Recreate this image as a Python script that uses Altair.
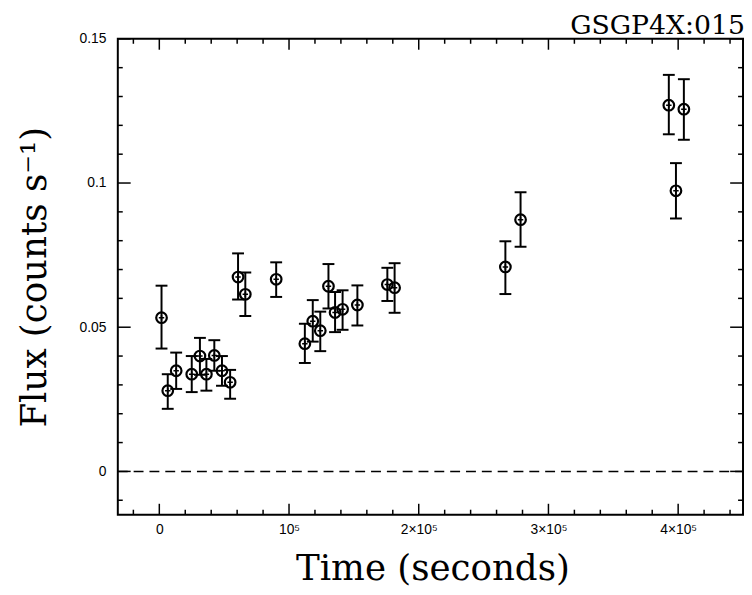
import altair as alt
import pandas as pd

# ---- data ----
time_s = [1700, 6500, 13000, 25000, 31300, 36300, 42400, 48300, 54600, 60700,
          66300, 90100, 112200, 118300, 124100, 130400, 135500, 141300, 152700,
          175800, 181400, 266800, 278500, 392800, 398300, 404400]
flux = [0.0533, 0.0280, 0.0349, 0.0337, 0.0400, 0.0337, 0.0402, 0.0349, 0.0309, 0.0674,
        0.0614, 0.0666, 0.0443, 0.0521, 0.0488, 0.0642, 0.0551, 0.0562, 0.0577,
        0.0648, 0.0637, 0.0709, 0.0873, 0.1270, 0.0973, 0.1256]
flux_lo = [0.0426, 0.0217, 0.0286, 0.0275, 0.0335, 0.0280, 0.0349, 0.0297, 0.0252, 0.0596,
           0.0539, 0.0605, 0.0376, 0.0450, 0.0417, 0.0565, 0.0483, 0.0491, 0.0506,
           0.0591, 0.0550, 0.0615, 0.0779, 0.1169, 0.0877, 0.1150]
flux_hi = [0.0644, 0.0337, 0.0412, 0.0400, 0.0463, 0.0390, 0.0455, 0.0400, 0.0352, 0.0756,
           0.0690, 0.0725, 0.0512, 0.0594, 0.0554, 0.0719, 0.0622, 0.0628, 0.0645,
           0.0706, 0.0722, 0.0798, 0.0968, 0.1375, 0.1069, 0.1360]

x_major = [0, 100000, 200000, 300000, 400000]
x_minor = [-20000, 20000, 40000, 60000, 80000, 120000, 140000, 160000, 180000,
           220000, 240000, 260000, 280000, 320000, 340000, 360000, 380000,
           420000, 440000]
y_major = [0, 0.05, 0.1, 0.15]
y_minor = [-0.01, 0.01, 0.02, 0.03, 0.04, 0.06, 0.07, 0.08, 0.09,
           0.11, 0.12, 0.13, 0.14]

W, H = 632, 481
XDOM = [-32000, 450000]
YDOM = [-0.015, 0.15]

df = pd.DataFrame({"t": time_s, "f": flux, "lo": flux_lo, "hi": flux_hi})

xs = alt.Scale(domain=XDOM, nice=False, zero=False)
ys = alt.Scale(domain=YDOM, nice=False, zero=False)

serif = "DejaVu Serif"
sans = "Liberation Sans"

x_axis = alt.Axis(
    values=x_major, ticks=False, domain=False, grid=False,
    labelExpr="datum.value == 0 ? '0' : datum.value == 100000 ? '10⁵' : (datum.value/100000) + '×10⁵'",
    labelFont=sans, labelFontSize=14, labelColor="black", labelPadding=8,
    title="Time (seconds)", titleFont=serif, titleFontSize=36, titleFontWeight="normal",
    titleColor="black", titleX=W / 2 + 2, titleY=66, titleBaseline="alphabetic", titleAlign="center",
)
y_axis = alt.Axis(
    values=y_major, ticks=False, domain=False, grid=False,
    labelExpr="datum.value == 0 ? '0' : format(datum.value, '~g')",
    labelFont=sans, labelFontSize=14, labelColor="black", labelPadding=12,
    title="Flux (counts s⁻¹)", titleFont=serif, titleFontSize=36, titleFontWeight="normal",
    titleColor="black", titleX=-84, titleY=H / 2, titleAngle=270,
    titleBaseline="middle", titleAlign="center",
)


def X(field):
    return alt.X(field, scale=xs, axis=x_axis)


def Y(field):
    return alt.Y(field, scale=ys, axis=y_axis)


base = alt.Chart(df)

points = base.mark_point(
    filled=False, color="black", size=115, strokeWidth=2.2, opacity=1
).encode(x=X("t:Q"), y=Y("f:Q"))
inner = base.mark_point(
    shape="M-1,0L1,0M0,-1L0,1", filled=False, color="black", size=30, strokeWidth=1.5, opacity=1
).encode(x=X("t:Q"), y=Y("f:Q"))

err = base.mark_rule(color="black", strokeWidth=2).encode(
    x=X("t:Q"), y=Y("lo:Q"), y2="hi:Q")
cap_lo = base.mark_tick(orient="horizontal", color="black", size=12, thickness=2, opacity=1).encode(
    x=X("t:Q"), y=Y("lo:Q"))
cap_hi = base.mark_tick(orient="horizontal", color="black", size=12, thickness=2, opacity=1).encode(
    x=X("t:Q"), y=Y("hi:Q"))

zero = alt.Chart(pd.DataFrame({"z": [0]})).mark_rule(
    color="black", strokeWidth=1.5, strokeDash=[10, 6]
).encode(y=Y("z:Q"), x=alt.value(0), x2=alt.value(W))

xmaj = pd.DataFrame({"v": x_major})
xmin = pd.DataFrame({"v": x_minor})
ymaj = pd.DataFrame({"v": y_major})
ymin = pd.DataFrame({"v": y_minor})


def xticks(d, ln):
    bot = alt.Chart(d).mark_rule(color="black", strokeWidth=1.5).encode(
        x=X("v:Q"), y=alt.value(H), y2=alt.value(H - ln))
    top = alt.Chart(d).mark_rule(color="black", strokeWidth=1.5).encode(
        x=X("v:Q"), y=alt.value(0), y2=alt.value(ln))
    return [bot, top]


def yticks(d, ln):
    lft = alt.Chart(d).mark_rule(color="black", strokeWidth=1.5).encode(
        y=Y("v:Q"), x=alt.value(0), x2=alt.value(ln))
    rgt = alt.Chart(d).mark_rule(color="black", strokeWidth=1.5).encode(
        y=Y("v:Q"), x=alt.value(W), x2=alt.value(W - ln))
    return [lft, rgt]


title_txt = alt.Chart(pd.DataFrame({"s": ["GSGP4X:015"]})).mark_text(
    font=serif, fontSize=27, align="right", baseline="alphabetic", color="black"
).encode(text="s:N", x=alt.value(W + 2), y=alt.value(-5))

layers = ([zero] + xticks(xmaj, 11) + xticks(xmin, 5) + yticks(ymaj, 13) + yticks(ymin, 5)
          + [err, cap_lo, cap_hi, points, inner, title_txt])

chart = alt.layer(*layers).properties(
    width=W, height=H,
    background="white",
    autosize=alt.AutoSizeParams(type="none"),
    padding={"left": 111, "top": 28, "right": 1, "bottom": 74},
).configure_view(stroke="black", strokeWidth=2)

chart.save("out.html", embed_options={"renderer": "svg", "actions": False})
